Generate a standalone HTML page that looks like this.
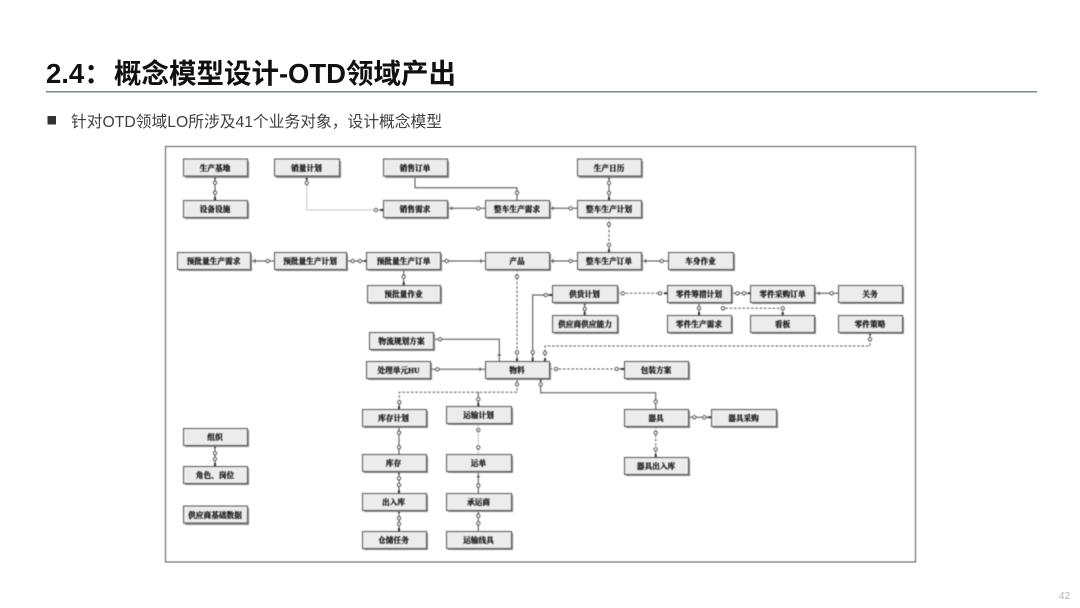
<!DOCTYPE html>
<html lang="zh">
<head>
<meta charset="utf-8">
<title>2.4：概念模型设计-OTD领域产出</title>
<style>
html,body{margin:0;padding:0;background:#fff}
body{width:1080px;height:608px;overflow:hidden;position:relative}
svg{position:absolute;left:0;top:0}
#d{filter:blur(.45px)}
#h{filter:blur(.3px)}
.t{font-family:"Liberation Sans","Noto Sans CJK SC",sans-serif;font-weight:700;font-size:27.5px;fill:#111}
.s{font-family:"Liberation Sans","Noto Sans CJK SC",sans-serif;font-size:15.75px;fill:#404040}
.b rect.h{fill:#8a8a8a;stroke:none}
.b rect.m{fill:#ececec;stroke:#555;stroke-width:1}
.b text{font-family:"Liberation Serif","Noto Serif CJK SC",serif;font-weight:700;font-size:7.7px;fill:#111;stroke:#111;stroke-width:.25;text-anchor:middle}
.l{fill:none;stroke:#4a4a4a;stroke-width:1}
.da{fill:none;stroke:#555;stroke-width:1;stroke-dasharray:2.5 1.8}
.do{fill:none;stroke:#808080;stroke-width:1;stroke-dasharray:1 1.2}
.k{fill:none;stroke:#333;stroke-width:2}
.c circle{fill:#fff;stroke:#4a4a4a;stroke-width:.9}
</style>
</head>
<body>
<svg width="1080" height="608" viewBox="0 0 1080 608" xmlns="http://www.w3.org/2000/svg">
<g id="h">
<text class="t" x="46" y="83">2.4：</text>
<text class="t" x="114" y="83">概念模型设计-</text>
<text class="t" x="288" y="83" textLength="58">OTD</text>
<text class="t" x="346" y="83">领域产出</text>
<rect x="46" y="91" width="991" height="1.5" fill="#7f8a8a"/>
<rect x="47.5" y="116" width="8.5" height="8.5" fill="#333"/>
<text class="s" x="71" y="127">针对OTD领域LO所涉及41个业务对象，设计概念模型</text>
</g>
<text x="1059" y="599" font-family="Liberation Sans, sans-serif" font-size="10" fill="#b5b5b5">42</text>

<g id="d">
<rect x="165.5" y="146.5" width="750" height="415.5" fill="#fff" stroke="#555" stroke-width="1"/>

<g class="l">
<path d="M215 176V200"/>
<path d="M306.7 176V183"/>
<path d="M415 176V187.7H517V200"/>
<path d="M448 208.3H485"/>
<path d="M550 208.3H577"/>
<path d="M609 176V200"/>
<path d="M250 261H274"/>
<path d="M347 261H367"/>
<path d="M441 261H485"/>
<path d="M403.7 269V285"/>
<path d="M550 261H577"/>
<path d="M642 261H668"/>
<path d="M552.7 295H532.7V361"/>
<path d="M584.7 302V315"/>
<path d="M732 293.3H751"/>
<path d="M815 293.3H838"/>
<path d="M699 302V315"/>
<path d="M870 332V339"/>
<path d="M433 339.3H499.3V361"/>
<path d="M431 369.3H485"/>
<path d="M540.7 378V392.7H655.7V409"/>
<path d="M688 417.3H711"/>
<path d="M399 426V454"/>
<path d="M399 471V493"/>
<path d="M399 510V531"/>
<path d="M478.3 471V493"/>
<path d="M478.3 510V531"/>
<path d="M215 445V466"/>
<path d="M478.3 392V406"/>
<path d="M517 378V384"/>
<path d="M399.3 402V409"/>
</g>
<g class="da">
<path d="M609 217V252"/>
<path d="M517 269V361"/>
<path d="M617 293.3H667"/>
<path d="M723 302V308.3H782.7V315"/>
<path d="M870 339V346H545V361"/>
<path d="M550 369H624"/>
<path d="M655.7 426V457"/>
<path d="M517 384V392.3H399.3V402"/>
</g>
<g class="do">
<path d="M306.7 183V210H383"/>
<path d="M478.3 423V454"/>
</g>

<g class="k">
<path d="M215 176V179M215 197V200M306.7 176V180M380 210H383M609 176V179M609 197V200M609 249V252"/>
<path d="M364 261H367M403.7 282V285M584.7 302V305M584.7 312V315M699 312V315M782.7 312V315M664 293.3H667M748 293.3H751"/>
<path d="M870 332V335M621 369H624M708 417.3H711M655.7 454V457M540.7 378V381M399 406V409M478.3 403V406"/>
<path d="M399 471V474M399 490V493M399 510V513M399 528V531M215 445V448M215 463V466M532.7 358V361M517 358V361M545 358V361"/>
<path d="M549 295H552.7"/>
</g>

<g class="l">
<path d="M451.7 206.5V210M553 206.5V210M255 259V263M481 259V263M553 259V263M645.7 259V263M819 291.5V295M480 367.5V371M497.5 355H501M476.5 476.7H480"/>
</g>

<g class="c">
<circle cx="215" cy="182.7" r="1.7"/><circle cx="215" cy="192.7" r="1.7"/>
<circle cx="306.7" cy="183" r="1.7"/><circle cx="376" cy="210" r="1.7"/>
<circle cx="517" cy="192.7" r="1.7"/><circle cx="478.3" cy="208.3" r="1.7"/>
<circle cx="570.7" cy="208.3" r="1.7"/>
<circle cx="609" cy="183" r="1.7"/><circle cx="609" cy="193" r="1.7"/>
<circle cx="609" cy="224.3" r="1.7"/><circle cx="609" cy="245" r="1.7"/>
<circle cx="267.7" cy="261" r="1.7"/><circle cx="352.7" cy="261" r="1.7"/><circle cx="360" cy="261" r="1.7"/>
<circle cx="446.7" cy="261" r="1.7"/><circle cx="403.7" cy="276.7" r="1.7"/>
<circle cx="517" cy="276.7" r="1.7"/><circle cx="517" cy="352.3" r="1.7"/>
<circle cx="570.7" cy="261" r="1.7"/><circle cx="661.7" cy="261" r="1.7"/>
<circle cx="532.7" cy="352.3" r="1.7"/><circle cx="545.7" cy="295" r="1.7"/>
<circle cx="622.7" cy="293.3" r="1.7"/><circle cx="660" cy="293.3" r="1.7"/>
<circle cx="584.7" cy="309" r="1.7"/>
<circle cx="737.3" cy="293.3" r="1.7"/><circle cx="744" cy="293.3" r="1.7"/>
<circle cx="831.7" cy="293.3" r="1.7"/>
<circle cx="699" cy="308" r="1.7"/><circle cx="723" cy="308.3" r="1.7"/><circle cx="782.7" cy="308.3" r="1.7"/>
<circle cx="870" cy="339.3" r="1.7"/><circle cx="545" cy="353" r="1.7"/>
<circle cx="440" cy="339.3" r="1.7"/><circle cx="437.3" cy="369.3" r="1.7"/>
<circle cx="556" cy="369" r="1.7"/><circle cx="616.7" cy="369" r="1.7"/>
<circle cx="540.7" cy="384.3" r="1.7"/><circle cx="655.7" cy="401.7" r="1.7"/>
<circle cx="694.3" cy="417.3" r="1.7"/><circle cx="704.3" cy="417.3" r="1.7"/>
<circle cx="655.7" cy="432.7" r="1.7"/><circle cx="655.7" cy="449.3" r="1.7"/>
<circle cx="517" cy="384.3" r="1.7"/><circle cx="399.3" cy="402.3" r="1.7"/><circle cx="478.3" cy="399.3" r="1.7"/>
<circle cx="399" cy="432.7" r="1.7"/><circle cx="399" cy="447.3" r="1.7"/>
<circle cx="399" cy="478.3" r="1.7"/><circle cx="399" cy="485" r="1.7"/>
<circle cx="399" cy="518.3" r="1.7"/><circle cx="399" cy="524" r="1.7"/>
<circle cx="478.3" cy="430" r="1.7"/><circle cx="478.3" cy="447.3" r="1.7"/>
<circle cx="478.3" cy="485.7" r="1.7"/>
<circle cx="478.3" cy="515.7" r="1.7"/><circle cx="478.3" cy="523.3" r="1.7"/>
<circle cx="215" cy="453.3" r="1.7"/><circle cx="215" cy="459" r="1.7"/>
</g>

<g class="b">
<rect class="h" x="185" y="161" width="64" height="17"/><rect class="m" x="183.5" y="159" width="64" height="17"/><text x="215" y="171">生产基地</text>
<rect class="h" x="185" y="202" width="64" height="17"/><rect class="m" x="183.5" y="200.5" width="64" height="17"/><text x="215" y="212">设备设施</text>
<rect class="h" x="276" y="161" width="65" height="17"/><rect class="m" x="274.5" y="159" width="65" height="17"/><text x="306.5" y="171">销量计划</text>
<rect class="h" x="385" y="161" width="64" height="17"/><rect class="m" x="383.5" y="159" width="64" height="17"/><text x="415" y="171">销售订单</text>
<rect class="h" x="385" y="202" width="64" height="17"/><rect class="m" x="383.5" y="200.5" width="64" height="17"/><text x="415" y="212">销售需求</text>
<rect class="h" x="487" y="202" width="64" height="17"/><rect class="m" x="485.5" y="200.5" width="64" height="17"/><text x="517" y="212">整车生产需求</text>
<rect class="h" x="579" y="161" width="64" height="17"/><rect class="m" x="577.5" y="159" width="64" height="17"/><text x="609" y="171">生产日历</text>
<rect class="h" x="579" y="202" width="64" height="17"/><rect class="m" x="577.5" y="200.5" width="64" height="17"/><text x="609" y="212">整车生产计划</text>

<rect class="h" x="179" y="254" width="73" height="17"/><rect class="m" x="177.5" y="252.5" width="73" height="17"/><text x="213.5" y="264">预批量生产需求</text>
<rect class="h" x="276" y="254" width="72" height="17"/><rect class="m" x="274.5" y="252.5" width="72" height="17"/><text x="310" y="264">预批量生产计划</text>
<rect class="h" x="368" y="254" width="74" height="17"/><rect class="m" x="366.5" y="252.5" width="74" height="17"/><text x="403.5" y="264">预批量生产订单</text>
<rect class="h" x="487" y="254" width="64" height="17"/><rect class="m" x="485.5" y="252.5" width="64" height="17"/><text x="517" y="264">产品</text>
<rect class="h" x="579" y="254" width="64" height="17"/><rect class="m" x="577.5" y="252.5" width="64" height="17"/><text x="609" y="264">整车生产订单</text>
<rect class="h" x="670" y="254" width="65" height="17"/><rect class="m" x="668.5" y="252.5" width="65" height="17"/><text x="700.5" y="264">车身作业</text>

<rect class="h" x="369" y="287" width="73" height="17"/><rect class="m" x="367.5" y="285.5" width="73" height="17"/><text x="403.5" y="297">预批量作业</text>
<rect class="h" x="554" y="287" width="65" height="17"/><rect class="m" x="552.5" y="285.5" width="65" height="17"/><text x="584.5" y="297">供货计划</text>
<rect class="h" x="554" y="317" width="65" height="17"/><rect class="m" x="552.5" y="315.5" width="65" height="17"/><text x="585" y="327">供应商供应能力</text>
<rect class="h" x="669" y="287" width="64" height="17"/><rect class="m" x="667.5" y="285.5" width="64" height="17"/><text x="699" y="297">零件筹措计划</text>
<rect class="h" x="752" y="287" width="64" height="17"/><rect class="m" x="750.5" y="285.5" width="64" height="17"/><text x="782.5" y="297">零件采购订单</text>
<rect class="h" x="840" y="287" width="64" height="17"/><rect class="m" x="838.5" y="285.5" width="64" height="17"/><text x="870" y="297">关务</text>
<rect class="h" x="669" y="317" width="64" height="17"/><rect class="m" x="667.5" y="315.5" width="64" height="17"/><text x="699" y="327">零件生产需求</text>
<rect class="h" x="752" y="317" width="64" height="17"/><rect class="m" x="750.5" y="315.5" width="64" height="17"/><text x="782.5" y="327">看板</text>
<rect class="h" x="840" y="317" width="64" height="17"/><rect class="m" x="838.5" y="315.5" width="64" height="17"/><text x="870" y="327">零件策略</text>

<rect class="h" x="371" y="334" width="64" height="17"/><rect class="m" x="369.5" y="332.5" width="64" height="17"/><text x="401.5" y="344">物流规划方案</text>
<rect class="h" x="368" y="363" width="64" height="17"/><rect class="m" x="366.5" y="361.5" width="64" height="17"/><text x="398.5" y="373">处理单元HU</text>
<rect class="h" x="487" y="363" width="64" height="17"/><rect class="m" x="485.5" y="361.5" width="64" height="17"/><text x="517" y="373">物料</text>
<rect class="h" x="626" y="363" width="64" height="17"/><rect class="m" x="624.5" y="361.5" width="64" height="17"/><text x="656" y="373">包装方案</text>

<rect class="h" x="626" y="411" width="64" height="17"/><rect class="m" x="624.5" y="409.5" width="64" height="17"/><text x="656" y="421">器具</text>
<rect class="h" x="713" y="411" width="65" height="17"/><rect class="m" x="711.5" y="409.5" width="65" height="17"/><text x="743.5" y="421">器具采购</text>
<rect class="h" x="626" y="459" width="64" height="17"/><rect class="m" x="624.5" y="457.5" width="64" height="17"/><text x="656" y="469">器具出入库</text>

<rect class="h" x="364" y="411" width="64" height="17"/><rect class="m" x="362.5" y="409.5" width="64" height="17"/><text x="393.5" y="421">库存计划</text>
<rect class="h" x="448" y="408" width="65" height="17"/><rect class="m" x="446.5" y="406.5" width="65" height="17"/><text x="478.5" y="418">运输计划</text>
<rect class="h" x="364" y="456" width="64" height="17"/><rect class="m" x="362.5" y="454.5" width="64" height="17"/><text x="393.5" y="466">库存</text>
<rect class="h" x="448" y="456" width="65" height="17"/><rect class="m" x="446.5" y="454.5" width="65" height="17"/><text x="478.5" y="466">运单</text>
<rect class="h" x="364" y="495" width="64" height="17"/><rect class="m" x="362.5" y="493.5" width="64" height="17"/><text x="393.5" y="505">出入库</text>
<rect class="h" x="448" y="495" width="65" height="17"/><rect class="m" x="446.5" y="493.5" width="65" height="17"/><text x="478.5" y="505">承运商</text>
<rect class="h" x="364" y="533" width="64" height="17"/><rect class="m" x="362.5" y="531.5" width="64" height="17"/><text x="393.5" y="543">仓储任务</text>
<rect class="h" x="448" y="533" width="65" height="17"/><rect class="m" x="446.5" y="531.5" width="65" height="17"/><text x="478.5" y="543">运输线具</text>

<rect class="h" x="185" y="430" width="64" height="17"/><rect class="m" x="183.5" y="428.5" width="64" height="17"/><text x="215" y="440">组织</text>
<rect class="h" x="185" y="468" width="64" height="17"/><rect class="m" x="183.5" y="466.5" width="64" height="17"/><text x="215" y="478">角色、岗位</text>
<rect class="h" x="185" y="508" width="64" height="17"/><rect class="m" x="183.5" y="506" width="64" height="17"/><text x="215" y="518">供应商基础数据</text>
</g>
</g>
</svg>
</body>
</html>
